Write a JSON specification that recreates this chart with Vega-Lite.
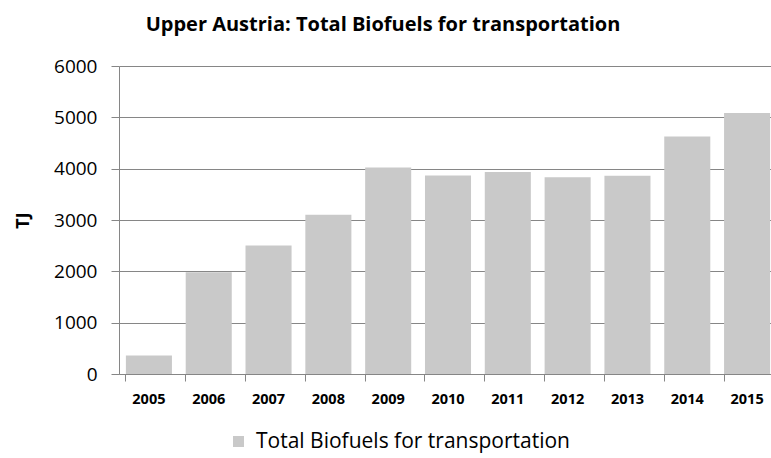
{
  "$schema": "https://vega.github.io/schema/vega-lite/v6.json",
  "autosize": {"type": "none"},
  "padding": {"left": 119, "top": 66, "right": 0, "bottom": 84},
  "width": 658,
  "height": 308,
  "background": "white",
  "config": {"font": "Open Sans", "view": {"stroke": null}},
  "title": {
    "text": "Upper Austria: Total Biofuels for transportation",
    "fontSize": 20,
    "fontWeight": "bold",
    "color": "#000000",
    "anchor": "middle",
    "dx": -65,
    "offset": 22
  },
  "data": {
    "values": [
      {"year": "2005", "value": 360, "series": "Total Biofuels for transportation"},
      {"year": "2006", "value": 1980, "series": "Total Biofuels for transportation"},
      {"year": "2007", "value": 2505, "series": "Total Biofuels for transportation"},
      {"year": "2008", "value": 3100, "series": "Total Biofuels for transportation"},
      {"year": "2009", "value": 4025, "series": "Total Biofuels for transportation"},
      {"year": "2010", "value": 3865, "series": "Total Biofuels for transportation"},
      {"year": "2011", "value": 3935, "series": "Total Biofuels for transportation"},
      {"year": "2012", "value": 3835, "series": "Total Biofuels for transportation"},
      {"year": "2013", "value": 3860, "series": "Total Biofuels for transportation"},
      {"year": "2014", "value": 4625, "series": "Total Biofuels for transportation"},
      {"year": "2015", "value": 5085, "series": "Total Biofuels for transportation"}
    ]
  },
  "mark": {"type": "bar"},
  "encoding": {
    "x": {
      "field": "year",
      "type": "nominal",
      "scale": {"paddingInner": 0.23, "paddingOuter": 0.115},
      "axis": {
        "title": null,
        "labelAngle": 0,
        "labelFontSize": 14.5,
        "labelFontWeight": "bold",
        "labelColor": "#000000",
        "labelPadding": 11,
        "bandPosition": 0,
        "tickSize": 7,
        "tickColor": "#868686",
        "domainColor": "#868686",
        "grid": false
      }
    },
    "y": {
      "field": "value",
      "type": "quantitative",
      "scale": {"domain": [0, 6000], "nice": false},
      "axis": {
        "title": "TJ",
        "titleFontSize": 18,
        "titleFontWeight": "bold",
        "titleColor": "#000000",
        "titleAngle": 270,
        "titleX": -96,
        "titleY": 154,
        "titleAlign": "center",
        "titleBaseline": "middle",
        "values": [0, 1000, 2000, 3000, 4000, 5000, 6000],
        "format": "d",
        "labelFontSize": 19,
        "labelColor": "#000000",
        "labelPadding": 14,
        "tickSize": 8,
        "tickColor": "#868686",
        "domainColor": "#868686",
        "gridColor": "#868686",
        "gridWidth": 1
      }
    },
    "color": {
      "field": "series",
      "type": "nominal",
      "scale": {"range": ["#c9c9c9"]},
      "legend": {
        "title": null,
        "orient": "none",
        "legendX": 109,
        "legendY": 365,
        "symbolType": "square",
        "symbolSize": 121,
        "labelFontSize": 21,
        "labelLimit": 0,
        "labelColor": "#000000",
        "labelOffset": 7
      }
    }
  }
}
